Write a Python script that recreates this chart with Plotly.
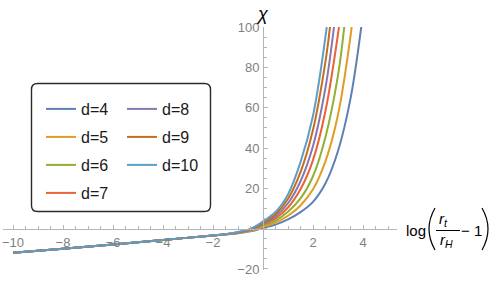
import plotly.graph_objects as go

# ---------------- data ----------------
dims = [4, 5, 6, 7, 8, 9, 10]
colors = ["#5E81B5", "#E19C24", "#8FB032", "#EB6235", "#8778B3", "#C56E1A", "#5D9EC7"]

# common branch (all curves coincide for negative log)
x_neg = [-10, -8, -6, -4, -2, -1.5]
chi_neg = [-12.0, -10.0, -7.8, -5.6, -3.4, -2.8]

x_d4 = [-1, -0.5, 0, 0.5, 1, 1.5, 2, 2.5, 3, 3.5, 3.93]
chi_d4 = [-2.3, -1.3, 0.3, 2.0, 4.6, 8.2, 13.3, 22.5, 38.5, 64.5, 100]
x_d5 = [-1, -0.5, 0, 0.5, 1, 1.5, 2, 2.5, 3, 3.55]
chi_d5 = [-2.2, -1.0, 0.9, 3.0, 6.4, 11.5, 19.5, 33.5, 56.5, 100]
x_d6 = [-1, -0.5, 0, 0.5, 1, 1.5, 2, 2.5, 3, 3.25]
chi_d6 = [-2.1, -0.8, 1.5, 4.0, 8.4, 15.0, 26, 45.5, 76, 100]
x_d7 = [-1, -0.5, 0, 0.5, 1, 1.5, 2, 2.5, 3.04]
chi_d7 = [-2.0, -0.6, 2.1, 5.1, 10.5, 19.5, 34, 58.5, 100]
x_d8 = [-1, -0.5, 0, 0.5, 1, 1.5, 2, 2.5, 2.84]
chi_d8 = [-1.9, -0.5, 2.6, 6.2, 12.6, 23.5, 41, 70, 100]
x_d9 = [-1, -0.5, 0, 0.5, 1, 1.5, 2, 2.5, 2.68]
chi_d9 = [-1.8, -0.3, 3.1, 7.2, 14.8, 28, 49, 83, 100]
x_d10 = [-1, -0.5, 0, 0.5, 1, 1.5, 2, 2.55]
chi_d10 = [-1.7, -0.1, 3.6, 8.3, 17.0, 33, 56, 100]

x_ticks = [-10, -8, -6, -4, -2, 2, 4]
y_ticks = [-20, 20, 40, 60, 80, 100]

series_x = [x_d4, x_d5, x_d6, x_d7, x_d8, x_d9, x_d10]
series_chi = [chi_d4, chi_d5, chi_d6, chi_d7, chi_d8, chi_d9, chi_d10]

# ---------------- layout geometry ----------------
W, H = 491, 281
L, R, T, B = 3, 397, 27, 270          # plot-area pixel box
XR = [-10.4, 5.36]
YR = [-20.5, 100]


def px(xp):
    return (xp - L) / (R - L)


def py(yp):
    return (B - yp) / (B - T)


fig = go.Figure()
for i, d in enumerate(dims):
    fig.add_trace(go.Scatter(
        x=x_neg + series_x[i], y=chi_neg + series_chi[i],
        mode="lines", name=f"d={d}",
        line=dict(color=colors[i], width=2, shape="spline", smoothing=1.0),
        legend="legend" if d <= 7 else "legend2",
        legendgroup=f"g{d}",
        hoverinfo="skip",
    ))

axis_col = "#b5b5b5"
lab_col = "#808080"
fig.update_layout(
    width=W, height=H,
    margin=dict(l=L, r=W - R, t=T, b=H - B, pad=0),
    paper_bgcolor="white", plot_bgcolor="white",
    font=dict(family="Liberation Sans, Arial, sans-serif"),
    xaxis=dict(
        range=XR, anchor="free", position=(0 - YR[0]) / (YR[1] - YR[0]),
        showline=True, linecolor=axis_col, linewidth=1,
        showgrid=False, zeroline=False,
        tickmode="array", tickvals=x_ticks,
        ticks="inside", ticklen=4, tickwidth=1, tickcolor=axis_col,
        tickfont=dict(size=13, color=lab_col), ticklabelstandoff=2,
        minor=dict(tickmode="linear", tick0=0, dtick=0.5, ticks="inside",
                   ticklen=2.5, tickwidth=1, tickcolor=axis_col, showgrid=False),
    ),
    yaxis=dict(
        range=YR, anchor="free", position=(0 - XR[0]) / (XR[1] - XR[0]),
        showline=True, linecolor=axis_col, linewidth=1,
        showgrid=False, zeroline=False,
        tickmode="array", tickvals=y_ticks,
        ticks="inside", ticklen=4, tickwidth=1, tickcolor=axis_col,
        tickfont=dict(size=13, color=lab_col), ticklabelstandoff=1,
        minor=dict(tickmode="linear", tick0=0, dtick=5, ticks="inside",
                   ticklen=2.5, tickwidth=1, tickcolor=axis_col, showgrid=False),
    ),
    legend=dict(x=px(41), y=py(92), xanchor="left", yanchor="top",
                bgcolor="rgba(0,0,0,0)", borderwidth=0,
                font=dict(size=16, color="#1a1a1a"), tracegroupgap=4.2),
    legend2=dict(x=px(122), y=py(92), xanchor="left", yanchor="top",
                 bgcolor="rgba(0,0,0,0)", borderwidth=0,
                 font=dict(size=16, color="#1a1a1a"), tracegroupgap=4.2),
    showlegend=True,
)

# rounded legend frame
x0, y0, x1, y1, r = 31.5, 83.5, 210.5, 211.5, 6
rx, ry = r / (R - L), r / (B - T)
X0, X1, Y0, Y1 = px(x0), px(x1), py(y0), py(y1)   # Y0 top, Y1 bottom
path = (f"M {X0+rx},{Y0} L {X1-rx},{Y0} Q {X1},{Y0} {X1},{Y0-ry} "
        f"L {X1},{Y1+ry} Q {X1},{Y1} {X1-rx},{Y1} L {X0+rx},{Y1} "
        f"Q {X0},{Y1} {X0},{Y1+ry} L {X0},{Y0-ry} Q {X0},{Y0} {X0+rx},{Y0} Z")
fig.add_shape(type="path", path=path, xref="paper", yref="paper",
              line=dict(color="#2a2a2a", width=1.4), layer="above")

# axis labels
txt = dict(xref="paper", yref="paper", showarrow=False, xanchor="center", yanchor="middle")
fig.add_annotation(x=px(262), y=py(14), text="<i>χ</i>", font=dict(size=18, color="black"), **txt)
fig.add_annotation(x=px(415.5), y=py(230), text="log", font=dict(size=15, color="black"), **txt)
fig.add_annotation(x=px(443), y=py(219), text="<i>r</i><sub><i>t</i></sub>", font=dict(size=15, color="black"), **txt)
fig.add_annotation(x=px(446), y=py(240), text="<i>r</i><sub><i>H</i></sub>", font=dict(size=15, color="black"), **txt)
fig.add_annotation(x=px(471), y=py(230), text="− 1", font=dict(size=15, color="black"), **txt)
fig.add_shape(type="line", xref="paper", yref="paper", x0=px(436), x1=px(460),
              y0=py(230.5), y1=py(230.5), line=dict(color="black", width=1))
fig.add_shape(type="path", xref="paper", yref="paper",
              path=f"M {px(435)},{py(208)} Q {px(423)},{py(229)} {px(435)},{py(250)}",
              line=dict(color="black", width=1.2))
fig.add_shape(type="path", xref="paper", yref="paper",
              path=f"M {px(482)},{py(208)} Q {px(494)},{py(229)} {px(482)},{py(250)}",
              line=dict(color="black", width=1.2))

fig.write_html("out.html", config={"displayModeBar": False},
               post_script="document.body.style.margin='0';document.body.style.padding='0';")
